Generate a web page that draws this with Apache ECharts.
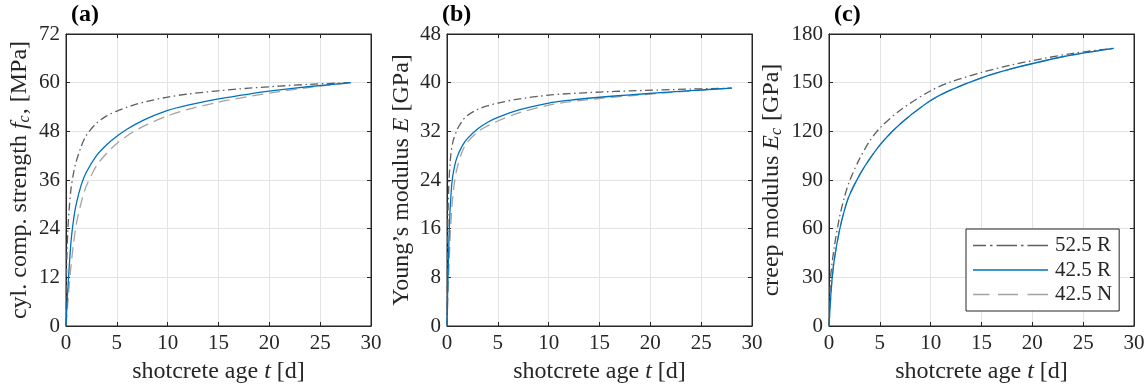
<!DOCTYPE html>
<html><head><meta charset="utf-8">
<script src="https://cdn.jsdelivr.net/npm/echarts@6/dist/echarts.min.js"></script>
<style>html,body{margin:0;padding:0;background:#fff}#c{width:1148px;height:389px}</style>
</head><body><div id="c"></div>
<script>
// ---------- data ----------
const seriesNames = ['52.5 R', '42.5 R', '42.5 N'];
const xTicks = [0, 5, 10, 15, 20, 25, 30];
const yTicksA = [0, 12, 24, 36, 48, 60, 72];
const yTicksB = [0, 8, 16, 24, 32, 40, 48];
const yTicksC = [0, 30, 60, 90, 120, 150, 180];

// (a) cylinder compressive strength [MPa]
const tA_525R = [0, 0.05, 0.1, 0.2, 0.3, 0.5, 0.75, 1, 1.5, 2, 3, 4, 5, 6, 7, 8, 10, 12, 15, 18, 21, 24, 28];
const fA_525R = [0, 12, 18, 24.5, 28.5, 34, 37.8, 40.5, 44.3, 47.0, 50.0, 51.8, 53.0, 53.95, 54.75, 55.4, 56.45, 57.2, 58.0, 58.65, 59.15, 59.6, 60];
const tA_425R = [0, 0.1, 0.25, 0.5, 0.75, 1, 1.5, 2, 3, 4, 5, 6, 7, 8, 10, 12, 15, 18, 21, 24, 28];
const fA_425R = [0, 5.5, 12, 21, 26.3, 30, 34.8, 37.9, 42.0, 44.7, 46.8, 48.5, 49.95, 51.2, 53.15, 54.45, 56.0, 57.2, 58.2, 59.05, 60];
const tA_425N = [0, 0.1, 0.25, 0.5, 0.75, 1, 1.5, 2, 3, 4, 5, 6.5, 8, 10, 12, 15, 18, 21, 24, 28];
const fA_425N = [0, 3, 8, 15, 20.5, 25, 30.5, 34.5, 39.5, 42.6, 45.0, 47.7, 49.7, 51.8, 53.4, 55.2, 56.6, 57.8, 58.85, 60];

// (b) Young's modulus [GPa]
const tB_525R = [0, 0.03, 0.07, 0.12, 0.2, 0.3, 0.4, 0.6, 1, 1.5, 2, 3, 4, 5, 7, 10, 12, 15, 18, 21, 24, 28];
const eB_525R = [0, 8, 15, 20, 24, 26.7, 28.5, 30.4, 32.3, 33.7, 34.6, 35.6, 36.2, 36.65, 37.3, 37.95, 38.2, 38.45, 38.65, 38.8, 38.95, 39.1];
const tB_425R = [0, 0.05, 0.1, 0.2, 0.3, 0.5, 0.75, 1, 1.5, 2, 3, 4, 5, 7, 10, 12, 15, 18, 21, 24, 28];
const eB_425R = [0, 4.5, 8, 14.5, 19, 23.8, 26.3, 27.8, 29.6, 30.8, 32.4, 33.5, 34.3, 35.5, 36.65, 37.1, 37.6, 38.0, 38.35, 38.7, 39.1];
const tB_425N = [0, 0.1, 0.2, 0.35, 0.5, 0.75, 1, 1.5, 2, 3, 4, 5, 7, 10, 12, 15, 18, 21, 24, 28];
const eB_425N = [0, 5, 10, 16, 20, 23.8, 26, 28.7, 30.2, 31.9, 32.9, 33.7, 35.0, 36.3, 36.85, 37.4, 37.85, 38.25, 38.65, 39.1];

// (c) creep modulus [GPa]
const tC_525R = [0, 0.15, 0.5, 1, 1.5, 2, 3, 4, 5, 7, 10, 12, 15, 18, 21, 24, 28];
const eC_525R = [0, 29, 48, 66, 79, 89, 103, 114, 122, 133, 145, 150.5, 156.3, 161.0, 164.8, 168.1, 171.2];
const tC_425R = [0, 0.25, 0.5, 1, 1.5, 2, 3, 4, 5, 6, 7, 8, 10, 12, 15, 18, 21, 24, 28];
const eC_425R = [0, 25, 40, 58, 71, 80.5, 93, 103, 111.5, 118.5, 124.5, 129.8, 139.0, 145.5, 153.0, 158.6, 163.2, 167.2, 171.2];
const tC_425N = [0, 0.25, 0.5, 1, 1.5, 2, 3, 4, 5, 6, 7, 8, 10, 12, 15, 18, 21, 24, 28];
const eC_425N = [0, 25, 40, 58, 71, 80.5, 93, 103, 111.5, 118.5, 124.5, 129.8, 139.0, 145.5, 153.0, 158.6, 163.2, 167.2, 171.2];

// ---------- styling ----------
const FONT = 'Liberation Serif';
const TXT = '#262626';
const GRIDC = '#e3e3e3';
const pair = (ts, vs) => ts.map((t, i) => [t, vs[i]]);

const lefts = [66, 447, 829];
const grids = lefts.map(l => ({left: l, top: 34, width: 305, height: 292, show: true,
  borderColor: TXT, borderWidth: 1, backgroundColor: 'transparent'}));

const NAME_FS = 24;
const richName = {
  n: {fontFamily: FONT, fontSize: NAME_FS, color: TXT},
  i: {fontFamily: FONT, fontSize: NAME_FS, color: TXT, fontStyle: 'italic'},
  s: {fontFamily: FONT, fontSize: 16, color: TXT, fontStyle: 'italic', padding: [11, 1, 0, 0]}
};

const xAxes = [], yAxes = [];
const yNames = ['{n|cyl. comp. strength }{i|f}{s|c}{n|, [MPa]}',
                '{n|Young\u2019s modulus }{i|E}{n| [GPa]}',
                '{n|creep modulus }{i|E}{s|c}{n| [GPa]}'];
const yTicks = [yTicksA, yTicksB, yTicksC];
const yGap = [33, 33, 44];
for (let g = 0; g < 3; g++) {
  const yt = yTicks[g];
  xAxes.push({gridIndex: g, type: 'value', min: xTicks[0], max: xTicks[xTicks.length - 1], interval: xTicks[1] - xTicks[0],
    position: 'bottom',
    name: '{n|shotcrete age }{i|t}{n| [d]}', nameLocation: 'middle', nameGap: 34,
    nameTextStyle: {rich: richName},
    axisLine: {show: true, onZero: false, lineStyle: {color: TXT, width: 1}},
    axisTick: {show: true, inside: true, length: 4, lineStyle: {color: TXT}},
    axisLabel: {fontFamily: FONT, fontSize: 21, color: TXT, margin: 7},
    splitLine: {show: true, lineStyle: {color: GRIDC, width: 1}}});
  xAxes.push({gridIndex: g, type: 'value', min: xTicks[0], max: xTicks[xTicks.length - 1], interval: xTicks[1] - xTicks[0], position: 'top',
    axisLine: {show: true, onZero: false, lineStyle: {color: TXT, width: 1}},
    axisTick: {show: true, inside: true, length: 4, lineStyle: {color: TXT}},
    axisLabel: {show: false}, splitLine: {show: false}});
  yAxes.push({gridIndex: g, type: 'value', min: yt[0], max: yt[yt.length - 1], interval: yt[1] - yt[0], position: 'left',
    name: yNames[g], nameLocation: 'middle', nameGap: yGap[g],
    nameTextStyle: {rich: richName},
    axisLine: {show: true, onZero: false, lineStyle: {color: TXT, width: 1}},
    axisTick: {show: true, inside: true, length: 4, lineStyle: {color: TXT}},
    axisLabel: {fontFamily: FONT, fontSize: 21, color: TXT, margin: 6},
    splitLine: {show: true, lineStyle: {color: GRIDC, width: 1}}});
  yAxes.push({gridIndex: g, type: 'value', min: yt[0], max: yt[yt.length - 1], interval: yt[1] - yt[0], position: 'right',
    axisLine: {show: true, onZero: false, lineStyle: {color: TXT, width: 1}},
    axisTick: {show: true, inside: true, length: 4, lineStyle: {color: TXT}},
    axisLabel: {show: false}, splitLine: {show: false}});
}

const styles = {
  '52.5 R': {color: '#5f5f5f', width: 1.3, type: [8, 3.5, 1.5, 3.5]},
  '42.5 R': {color: '#0072BD', width: 1.3, type: 'solid'},
  '42.5 N': {color: '#a3a3a3', width: 1.3, type: [11, 6]}
};
// legend line icons (dash pattern drawn as a path, 75 x 1.3 units)
const H = 1.3;
const seg = (a, b) => `M${a},0H${b}V${H}H${a}Z`;
const icons = {
  '52.5 R': 'path://' + [seg(0, 13), seg(17, 19.5), seg(23.5, 44), seg(48, 50.5), seg(54.5, 75)].join(' '),
  '42.5 R': 'path://' + seg(0, 75),
  '42.5 N': 'path://' + [seg(0, 16.5), seg(25, 45), seg(54.5, 75)].join(' ')
};

const mk = (name, g, data) => ({
  name, type: 'line', xAxisIndex: 2 * g, yAxisIndex: 2 * g, data, showSymbol: false, symbol: 'none',
  smooth: 0.3, animation: false, z: name === '42.5 R' ? 5 : 3,
  lineStyle: styles[name], itemStyle: {color: styles[name].color}
});
const series = [
  mk('42.5 N', 0, pair(tA_425N, fA_425N)), mk('52.5 R', 0, pair(tA_525R, fA_525R)), mk('42.5 R', 0, pair(tA_425R, fA_425R)),
  mk('42.5 N', 1, pair(tB_425N, eB_425N)), mk('52.5 R', 1, pair(tB_525R, eB_525R)), mk('42.5 R', 1, pair(tB_425R, eB_425R)),
  mk('42.5 N', 2, pair(tC_425N, eC_425N)), mk('52.5 R', 2, pair(tC_525R, eC_525R)), mk('42.5 R', 2, pair(tC_425R, eC_425R))
];

const chart = echarts.init(document.getElementById('c'), null, {renderer: 'canvas'});
chart.setOption({
  animation: false,
  backgroundColor: '#fff',
  title: [
    {text: '(a)', left: 71, top: 3},
    {text: '(b)', left: 442, top: 3},
    {text: '(c)', left: 834, top: 3}
  ].map(t => Object.assign(t, {padding: 0, textStyle: {fontFamily: FONT, fontSize: 24, fontWeight: 'bold', color: '#000'}})),
  grid: grids,
  xAxis: xAxes,
  yAxis: yAxes,
  legend: {
    data: seriesNames.map(n => ({name: n, icon: icons[n], itemStyle: {color: styles[n].color, borderWidth: 0}})),
    orient: 'vertical', left: 966, top: 229,
    itemWidth: 75, itemHeight: H, itemGap: 3.5, symbolKeepAspect: false,
    padding: [6, 7, 6, 7], borderColor: TXT, borderWidth: 1, borderRadius: 0,
    backgroundColor: '#fff', selectedMode: false,
    textStyle: {fontFamily: FONT, fontSize: 21, color: TXT, lineHeight: 21, padding: [0, 0, 0, 2]}
  },
  series
});
</script></body></html>
